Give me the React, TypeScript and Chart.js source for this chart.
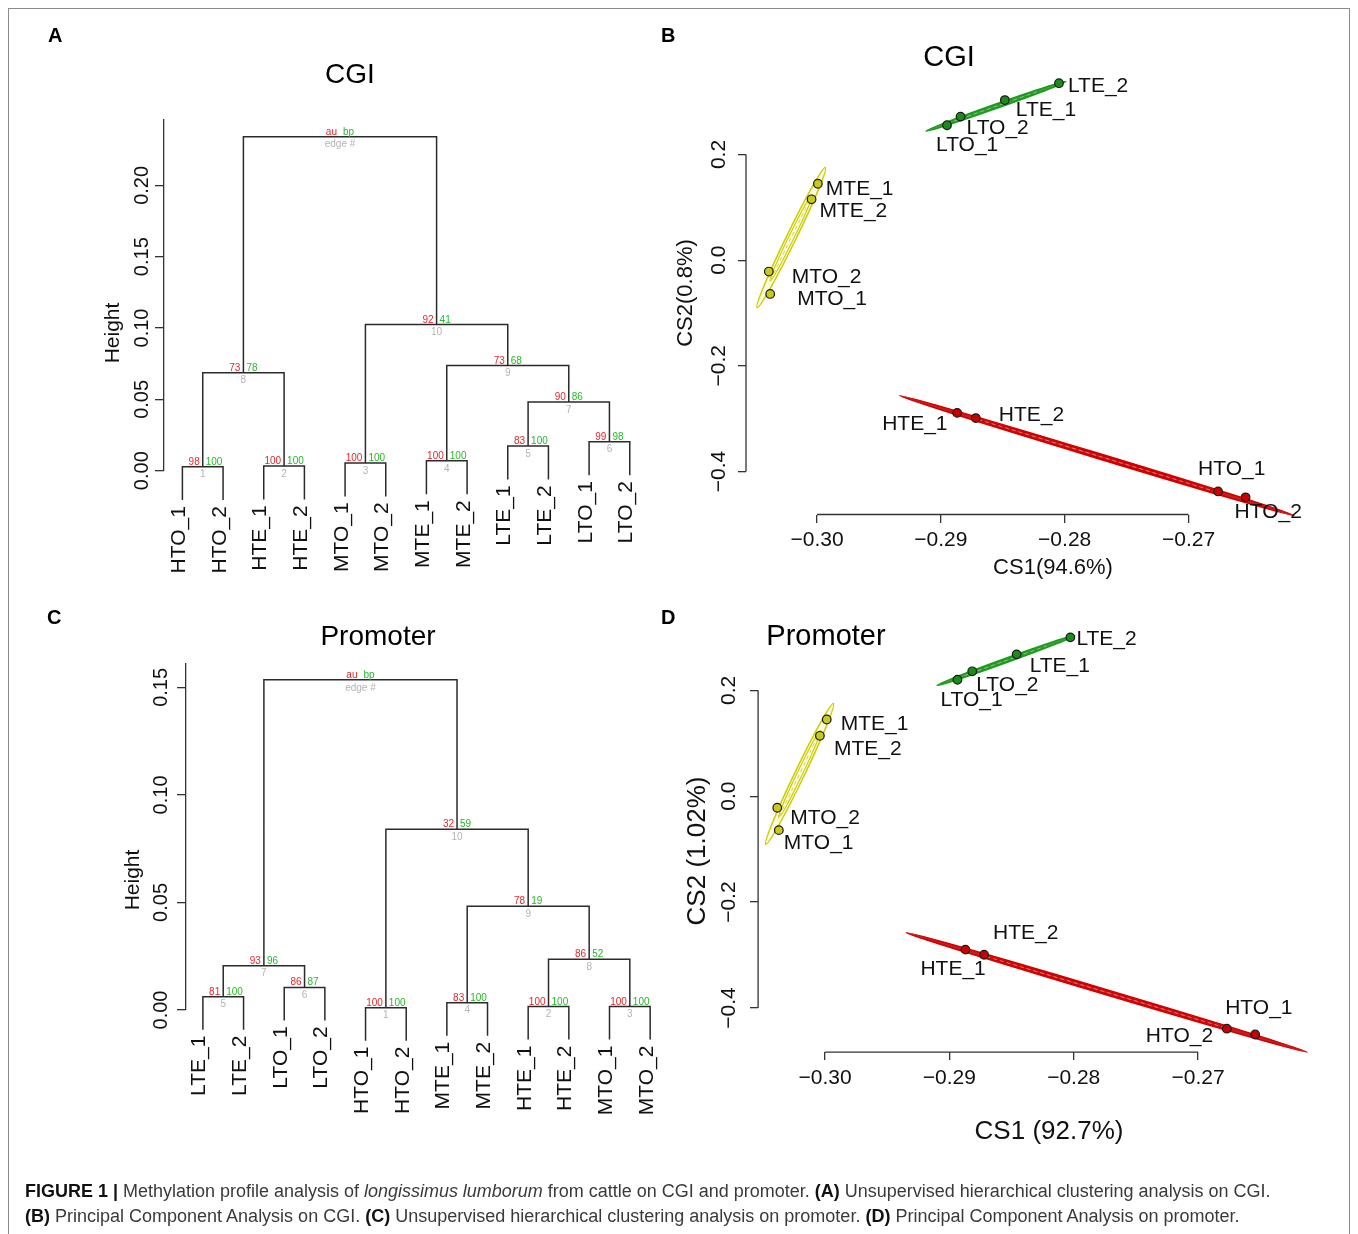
import React, { useEffect, useRef } from 'react';
import { Chart, registerables } from 'chart.js';

Chart.register(...registerables);

const PAGE_W = 1358;
const PAGE_H = 1234;
const FONT = '"Liberation Sans", Arial, Helvetica, sans-serif';
const CAPTION_FONT = '"Liberation Sans Narrow", "Liberation Sans", Arial, sans-serif';

// ---------------- (A) hierarchical clustering on CGI ----------------
const cgiLeaves = ['HTO_1', 'HTO_2', 'HTE_1', 'HTE_2', 'MTO_1', 'MTO_2', 'MTE_1', 'MTE_2', 'LTE_1', 'LTE_2', 'LTO_1', 'LTO_2'];
// hclust-style merge table: negative = leaf position, positive = earlier merge row
const cgiMergeLeft = [-1, -3, -5, -7, -9, -11, 5, 1, 4, 3, 8];
const cgiMergeRight = [-2, -4, -6, -8, -10, -12, 6, 2, 7, 9, 10];
const cgiHeights = [0.0028, 0.0033, 0.0054, 0.0069, 0.0173, 0.0203, 0.0482, 0.0687, 0.0737, 0.1024, 0.2341];
const cgiAu = [98, 100, 100, 100, 83, 99, 90, 73, 73, 92];
const cgiBp = [100, 100, 100, 100, 100, 98, 86, 78, 68, 41];
const cgiHeightTicks = [0, 0.05, 0.1, 0.15, 0.2];

// ---------------- (C) hierarchical clustering on promoter ----------------
const promLeaves = ['LTE_1', 'LTE_2', 'LTO_1', 'LTO_2', 'HTO_1', 'HTO_2', 'MTE_1', 'MTE_2', 'HTE_1', 'HTE_2', 'MTO_1', 'MTO_2'];
const promMergeLeft = [-5, -9, -11, -7, -1, -3, 5, 2, 4, 1, 7];
const promMergeRight = [-6, -10, -12, -8, -2, -4, 6, 3, 8, 9, 10];
const promHeights = [0.0011, 0.0016, 0.0016, 0.0034, 0.0062, 0.0105, 0.0206, 0.0236, 0.0482, 0.084, 0.1535];
const promAu = [100, 100, 100, 83, 81, 86, 93, 86, 78, 32];
const promBp = [100, 100, 100, 100, 100, 87, 96, 52, 19, 59];
const promHeightTicks = [0, 0.05, 0.1, 0.15];

// ---------------- (B)/(D) PCA ----------------
const pcaSamples = ['LTE_2', 'LTE_1', 'LTO_2', 'LTO_1', 'MTE_1', 'MTE_2', 'MTO_2', 'MTO_1', 'HTE_1', 'HTE_2', 'HTO_1', 'HTO_2'];
const pcaGroups = ['L', 'L', 'L', 'L', 'M', 'M', 'M', 'M', 'H', 'H', 'H', 'H'];
const cgiCS1 = [-0.28046, -0.28483, -0.28841, -0.2895, -0.29993, -0.30044, -0.30389, -0.30378, -0.28868, -0.28718, -0.26761, -0.26539];
const cgiCS2 = [0.335, 0.303, 0.2717, 0.2554, 0.1446, 0.1152, -0.0215, -0.0639, -0.2891, -0.2989, -0.4378, -0.4489];
const promCS1 = [-0.28027, -0.28459, -0.28816, -0.28935, -0.29986, -0.30041, -0.30384, -0.30371, -0.28871, -0.28721, -0.26541, -0.26769];
const promCS2 = [0.3, 0.2679, 0.2359, 0.2199, 0.1449, 0.1141, -0.0218, -0.0641, -0.2897, -0.2994, -0.45, -0.4391];
const cs1Ticks = [-0.3, -0.29, -0.28, -0.27];
const cs2Ticks = [-0.4, -0.2, 0, 0.2];

// group ellipses: major-axis end points in data units (L, M, H)
const ellipseGroups = ['L', 'M', 'H'];
const cgiEllipseFrom = [[-0.2912, 0.2443], [-0.30484, -0.09], [-0.29335, -0.2563]];
const cgiEllipseTo = [[-0.2799, 0.3382], [-0.29932, 0.1752], [-0.26147, -0.4832]];
const promEllipseFrom = [[-0.29099, 0.209], [-0.30476, -0.091], [-0.29347, -0.2577]];
const promEllipseTo = [[-0.27993, 0.3032], [-0.29932, 0.175], [-0.26122, -0.4833]];

// ---------------- styles ----------------
const groupLine: Record<string, string> = { L: '#1f9a1f', M: '#cdcd00', H: '#cd0000' };
const groupFill: Record<string, string> = { L: '#1a8c1a', M: '#c9c918', H: '#c80000' };
const ellipseHalfWidth: Record<string, number> = { L: 2.2, M: 4.8, H: 2.6 };
const AU_COLOR = '#e8262b';
const BP_COLOR = '#27b927';
const EDGE_COLOR = '#b3b3b3';
const TREE_LINE = '#2b2b2b';
const AXIS = '#333333';

// label placement (pixels: left edge / caps centre relative to point)
const cgiLabelDx = [9, 11, 6, -11, 8, 8, 23, 27, -75, 23, -20, -11];
const cgiLabelDy = [1, 8, 10, 18, 4, 10, 4, 4, 10, -5, -24, 13];
const promLabelDx = [6, 13, 4, -17, 14, 14, 13, 5, -45, 9, -30, -81];
const promLabelDy = [0, 10, 12, 19, 3, 12, 9, 11, 18, -23, -28, 6];

const dendroA = {
  title: 'CGI', leaves: cgiLeaves, mergeLeft: cgiMergeLeft, mergeRight: cgiMergeRight,
  heights: cgiHeights, au: cgiAu, bp: cgiBp, ticks: cgiHeightTicks,
  geom: { axisX: 163.9, leafStart: 182.4, leafStep: 40.67, top: 120, bottom: 470.7, yMax: 0.2458,
    titleX: 350, titleY: 73, heightX: 111.5, heightY: 333, tickLabelX: 141.3 },
};
const dendroC = {
  title: 'Promoter', leaves: promLeaves, mergeLeft: promMergeLeft, mergeRight: promMergeRight,
  heights: promHeights, au: promAu, bp: promBp, ticks: promHeightTicks,
  geom: { axisX: 185.4, leafStart: 202.9, leafStep: 40.66, top: 663.3, bottom: 1010, yMax: 0.1612,
    titleX: 378, titleY: 635, heightX: 131.6, heightY: 880, tickLabelX: 160.3 },
};
const pcaB = {
  title: 'CGI', cs1: cgiCS1, cs2: cgiCS2, from: cgiEllipseFrom, to: cgiEllipseTo,
  dx: cgiLabelDx, dy: cgiLabelDy, xLabel: 'CS1(94.6%)', yLabel: 'CS2(0.8%)',
  geom: { left: 817, right: 1188.5, top: 154.5, bottom: 471.5, yAxisPx: 746, xAxisPx: 514.5,
    xLo: -0.3075, xHi: -0.2605, yLo: -0.495, yHi: 0.35,
    titleX: 949, titleY: 56, titleSize: 29, xLabelX: 1053, xLabelY: 566, yLabelX: 684.5, yLabelY: 293,
    axisLabelSize: 22, tickLabelX: 717.5 },
};
const pcaD = {
  title: 'Promoter', cs1: promCS1, cs2: promCS2, from: promEllipseFrom, to: promEllipseTo,
  dx: promLabelDx, dy: promLabelDy, xLabel: 'CS1 (92.7%)', yLabel: 'CS2 (1.02%)',
  geom: { left: 825, right: 1198.1, top: 690.3, bottom: 1008, yAxisPx: 758.1, xAxisPx: 1052.2,
    xLo: -0.3075, xHi: -0.2605, yLo: -0.495, yHi: 0.32,
    titleX: 826, titleY: 635, titleSize: 29, xLabelX: 1049, xLabelY: 1130, yLabelX: 696, yLabelY: 851,
    axisLabelSize: 26, tickLabelX: 727.7 },
};

function minusFmt(v: number, digits: number) {
  const s = Math.abs(v).toFixed(digits);
  return (v < -1e-12 ? '\u2212' : '') + s;
}

// rotated text (reads bottom-to-top); cx = centre of capital letters
function drawRotated(ctx: any, text: string, cx: number, y: number, size: number, align: CanvasTextAlign) {
  ctx.save();
  ctx.translate(cx + 0.358 * size, y);
  ctx.rotate(-Math.PI / 2);
  ctx.textAlign = align;
  ctx.textBaseline = 'alphabetic';
  ctx.fillText(text, 0, 0);
  ctx.restore();
}

function buildTree(mergeLeft: number[], mergeRight: number[], heights: number[]) {
  const n = heights.length;
  const nodeX: number[] = [];
  const posOf = (c: number) => (c < 0 ? -c : nodeX[c - 1]);
  const hang = 0.1 * heights[n - 1];
  const leafEnd: Record<number, number> = {};
  const segments: { x: number; y: number }[][] = [];
  for (let i = 0; i < n; i++) {
    const l = mergeLeft[i];
    const r = mergeRight[i];
    const h = heights[i];
    const xl = posOf(l);
    const xr = posOf(r);
    nodeX[i] = (xl + xr) / 2;
    const yl = l < 0 ? h - hang : heights[l - 1];
    const yr = r < 0 ? h - hang : heights[r - 1];
    if (l < 0) leafEnd[-l] = yl;
    if (r < 0) leafEnd[-r] = yr;
    segments.push([{ x: xl, y: yl }, { x: xl, y: h }, { x: xr, y: h }, { x: xr, y: yr }]);
  }
  return { nodeX, leafEnd, segments };
}

function dendroConfig(d: any): any {
  const g = d.geom;
  const xMin = 1 - (g.leafStart - g.axisX) / g.leafStep;
  const xMax = d.leaves.length + 0.5;
  const right = g.leafStart + (xMax - 1) * g.leafStep;
  const tree = buildTree(d.mergeLeft, d.mergeRight, d.heights);
  const datasets = tree.segments.map((seg) => ({
    data: seg, showLine: true, borderColor: TREE_LINE, borderWidth: 1.5,
    pointRadius: 0, tension: 0, clip: false, fill: false,
  }));
  const plugin = {
    id: 'dendroText',
    afterDraw(chart: any) {
      const ctx = chart.ctx;
      const xs = chart.scales.x;
      const ys = chart.scales.y;
      ctx.save();
      ctx.fillStyle = '#000';
      ctx.font = `28px ${FONT}`;
      ctx.textAlign = 'center';
      ctx.textBaseline = 'alphabetic';
      ctx.fillText(d.title, g.titleX, g.titleY + 0.358 * 28);
      ctx.fillStyle = '#111';
      ctx.font = `21px ${FONT}`;
      drawRotated(ctx, 'Height', g.heightX, g.heightY, 21, 'center');
      ctx.font = `20px ${FONT}`;
      d.ticks.forEach((v: number) => drawRotated(ctx, v.toFixed(2), g.tickLabelX, ys.getPixelForValue(v), 20, 'center'));
      ctx.font = `21px ${FONT}`;
      d.leaves.forEach((lab: string, i: number) => {
        const k = i + 1;
        drawRotated(ctx, lab, xs.getPixelForValue(k) - 5, ys.getPixelForValue(tree.leafEnd[k]) + 6, 21, 'right');
      });
      ctx.font = `10px ${FONT}`;
      const n = d.heights.length;
      for (let i = 0; i < n; i++) {
        const px = xs.getPixelForValue(tree.nodeX[i]);
        const py = ys.getPixelForValue(d.heights[i]);
        const root = i === n - 1;
        const au = root ? 'au' : String(d.au[i]);
        const bp = root ? 'bp' : String(d.bp[i]);
        const edge = root ? 'edge #' : String(i + 1);
        ctx.textBaseline = 'alphabetic';
        ctx.fillStyle = AU_COLOR;
        ctx.textAlign = 'right';
        ctx.fillText(au, px - 3, py - 2);
        ctx.fillStyle = BP_COLOR;
        ctx.textAlign = 'left';
        ctx.fillText(bp, px + 3, py - 2);
        ctx.fillStyle = EDGE_COLOR;
        ctx.textAlign = 'center';
        ctx.textBaseline = 'top';
        ctx.fillText(edge, px, py + 3);
      }
      ctx.restore();
    },
  };
  return {
    type: 'scatter',
    data: { datasets },
    options: {
      responsive: false,
      animation: false,
      events: [],
      layout: { padding: { left: g.axisX, top: g.top, right: PAGE_W - right, bottom: PAGE_H - g.bottom } },
      plugins: { legend: { display: false }, tooltip: { enabled: false }, title: { display: false } },
      scales: {
        x: { type: 'linear', min: xMin, max: xMax, display: false },
        y: {
          type: 'linear', min: 0, max: g.yMax, position: { x: xMin },
          afterBuildTicks: (s: any) => { s.ticks = d.ticks.map((v: number) => ({ value: v })); },
          ticks: { display: false },
          grid: { display: true, drawOnChartArea: false, drawTicks: true, tickLength: 8, color: AXIS, lineWidth: 1.3 },
          border: { display: true, color: AXIS, width: 1.3 },
        },
      },
    },
    plugins: [plugin],
  };
}

function pcaConfig(p: any): any {
  const g = p.geom;
  const xMin = cs1Ticks[0];
  const xMax = cs1Ticks[cs1Ticks.length - 1];
  const yMin = cs2Ticks[0];
  const yMax = cs2Ticks[cs2Ticks.length - 1];
  const pxX = (g.right - g.left) / (xMax - xMin);
  const pxY = (g.bottom - g.top) / (yMax - yMin);
  const areaLeft = g.left - (xMin - g.xLo) * pxX;
  const areaRight = g.right + (g.xHi - xMax) * pxX;
  const areaTop = g.top - (g.yHi - yMax) * pxY;
  const areaBottom = g.bottom + (yMin - g.yLo) * pxY;
  const yAxisAt = xMin - (g.left - g.yAxisPx) / pxX;
  const xAxisAt = yMin - (g.xAxisPx - g.bottom) / pxY;
  const datasets = ellipseGroups.map((grp) => {
    const idx = pcaSamples.map((_, i) => i).filter((i) => pcaGroups[i] === grp);
    return {
      data: idx.map((i) => ({ x: p.cs1[i], y: p.cs2[i] })),
      pointRadius: 4.3, pointBackgroundColor: groupFill[grp], pointBorderColor: '#1a1a1a',
      pointBorderWidth: 1.2, showLine: false, clip: false,
    };
  });
  const plugin = {
    id: 'pcaDecor',
    beforeDatasetsDraw(chart: any) {
      const ctx = chart.ctx;
      const xs = chart.scales.x;
      const ys = chart.scales.y;
      ctx.save();
      ellipseGroups.forEach((grp, k) => {
        const x1 = xs.getPixelForValue(p.from[k][0]);
        const y1 = ys.getPixelForValue(p.from[k][1]);
        const x2 = xs.getPixelForValue(p.to[k][0]);
        const y2 = ys.getPixelForValue(p.to[k][1]);
        const cx = (x1 + x2) / 2;
        const cy = (y1 + y2) / 2;
        const a = Math.hypot(x2 - x1, y2 - y1) / 2;
        const ang = Math.atan2(y2 - y1, x2 - x1);
        const hw = ellipseHalfWidth[grp];
        const col = groupLine[grp];
        ctx.strokeStyle = col;
        ctx.fillStyle = col;
        ctx.setLineDash([]);
        ctx.globalAlpha = grp === 'M' ? 0.1 : 0.9;
        ctx.beginPath();
        ctx.ellipse(cx, cy, a, hw, ang, 0, Math.PI * 2);
        ctx.fill();
        ctx.globalAlpha = 1;
        ctx.lineWidth = 1.5;
        ctx.stroke();
        ctx.beginPath();
        ctx.ellipse(cx, cy, a * 0.62, hw * 0.55, ang, 0, Math.PI * 2);
        ctx.lineWidth = 1.1;
        ctx.stroke();
        ctx.beginPath();
        ctx.setLineDash([4, 3]);
        ctx.lineWidth = 0.8;
        ctx.strokeStyle = grp === 'M' ? col : 'rgba(255,255,255,0.5)';
        ctx.moveTo(cx - a * 0.6 * Math.cos(ang), cy - a * 0.6 * Math.sin(ang));
        ctx.lineTo(cx + a * 0.6 * Math.cos(ang), cy + a * 0.6 * Math.sin(ang));
        ctx.stroke();
        ctx.setLineDash([]);
      });
      ctx.restore();
    },
    afterDatasetsDraw(chart: any) {
      const ctx = chart.ctx;
      const xs = chart.scales.x;
      const ys = chart.scales.y;
      ctx.save();
      ctx.fillStyle = '#111';
      ctx.font = `21px ${FONT}`;
      ctx.textAlign = 'left';
      ctx.textBaseline = 'alphabetic';
      pcaSamples.forEach((name, i) => {
        const px = xs.getPixelForValue(p.cs1[i]);
        const py = ys.getPixelForValue(p.cs2[i]);
        ctx.fillText(name, px + p.dx[i], py + p.dy[i] + 0.358 * 21);
      });
      ctx.restore();
    },
    afterDraw(chart: any) {
      const ctx = chart.ctx;
      const xs = chart.scales.x;
      const ys = chart.scales.y;
      ctx.save();
      // axis lines spanning the tick range (R style)
      ctx.strokeStyle = AXIS;
      ctx.lineWidth = 1.3;
      const ax = xs.getPixelForValue(yAxisAt);
      const ay = ys.getPixelForValue(xAxisAt);
      ctx.beginPath();
      ctx.moveTo(xs.getPixelForValue(xMin), ay);
      ctx.lineTo(xs.getPixelForValue(xMax), ay);
      ctx.moveTo(ax, ys.getPixelForValue(yMin));
      ctx.lineTo(ax, ys.getPixelForValue(yMax));
      ctx.stroke();
      ctx.fillStyle = '#000';
      ctx.textAlign = 'center';
      ctx.textBaseline = 'alphabetic';
      ctx.font = `${g.titleSize}px ${FONT}`;
      ctx.fillText(p.title, g.titleX, g.titleY + 0.358 * g.titleSize);
      ctx.fillStyle = '#111';
      ctx.font = `${g.axisLabelSize}px ${FONT}`;
      ctx.fillText(p.xLabel, g.xLabelX, g.xLabelY + 0.358 * g.axisLabelSize);
      drawRotated(ctx, p.yLabel, g.yLabelX, g.yLabelY, g.axisLabelSize, 'center');
      ctx.font = `21px ${FONT}`;
      cs2Ticks.forEach((v) => drawRotated(ctx, minusFmt(v, 1), g.tickLabelX, ys.getPixelForValue(v), 21, 'center'));
      ctx.restore();
    },
  };
  const gridOpts = { display: true, drawOnChartArea: false, drawTicks: true, tickLength: 8, color: AXIS, lineWidth: 1.3 };
  return {
    type: 'scatter',
    data: { datasets },
    options: {
      responsive: false,
      animation: false,
      events: [],
      layout: { padding: { left: areaLeft, top: areaTop, right: PAGE_W - areaRight, bottom: PAGE_H - areaBottom } },
      plugins: { legend: { display: false }, tooltip: { enabled: false }, title: { display: false } },
      scales: {
        x: {
          type: 'linear', min: g.xLo, max: g.xHi, position: { y: xAxisAt },
          afterBuildTicks: (s: any) => { s.ticks = cs1Ticks.map((v) => ({ value: v })); },
          ticks: {
            callback: (v: any) => minusFmt(Number(v), 2), font: { family: FONT, size: 21 }, color: '#111',
            padding: 5, maxRotation: 0, minRotation: 0, autoSkip: false,
          },
          grid: gridOpts,
          border: { display: false },
        },
        y: {
          type: 'linear', min: g.yLo, max: g.yHi, position: { x: yAxisAt },
          afterBuildTicks: (s: any) => { s.ticks = cs2Ticks.map((v) => ({ value: v })); },
          ticks: { display: false },
          grid: gridOpts,
          border: { display: false },
        },
      },
    },
    plugins: [plugin],
  };
}

function ChartLayer({ make }: { make: () => any }) {
  const ref = useRef<HTMLCanvasElement>(null);
  useEffect(() => {
    const chart = new Chart(ref.current as HTMLCanvasElement, make());
    return () => chart.destroy();
  }, []);
  return (
    <canvas
      ref={ref}
      width={PAGE_W}
      height={PAGE_H}
      style={{ position: 'absolute', left: 0, top: 0, width: PAGE_W, height: PAGE_H }}
    />
  );
}

const letterStyle: React.CSSProperties = {
  position: 'absolute', fontFamily: FONT, fontWeight: 'bold', fontSize: 20, lineHeight: '20px', color: '#000',
};

export default function App() {
  const line1 = useRef<HTMLSpanElement>(null);
  const line2 = useRef<HTMLSpanElement>(null);
  useEffect(() => {
    const fit = (el: HTMLSpanElement | null, target: number) => {
      if (!el) return;
      el.style.transform = 'none';
      const w = el.offsetWidth;
      if (w > 0) el.style.transform = `scaleX(${target / w})`;
    };
    fit(line1.current, 1246);
    fit(line2.current, 1215);
  }, []);
  const capStyle: React.CSSProperties = {
    position: 'absolute', left: 25, fontFamily: CAPTION_FONT, fontSize: 18, lineHeight: '18px',
    whiteSpace: 'pre', transformOrigin: '0 0', color: '#3a3a3a',
  };
  return (
    <div style={{ position: 'absolute', left: 0, top: 0, width: PAGE_W, height: PAGE_H, overflow: 'hidden', background: '#fff' }}>
      <div style={{ position: 'absolute', left: 8, top: 8, width: 1342, height: 1280, border: '1px solid #8a8a8a', boxSizing: 'border-box' }} />
      <ChartLayer make={() => dendroConfig(dendroA)} />
      <ChartLayer make={() => pcaConfig(pcaB)} />
      <ChartLayer make={() => dendroConfig(dendroC)} />
      <ChartLayer make={() => pcaConfig(pcaD)} />
      <div style={{ ...letterStyle, left: 48, top: 24.5 }}>A</div>
      <div style={{ ...letterStyle, left: 661, top: 24.5 }}>B</div>
      <div style={{ ...letterStyle, left: 47, top: 606.5 }}>C</div>
      <div style={{ ...letterStyle, left: 661, top: 606.5 }}>D</div>
      <span ref={line1} style={{ ...capStyle, top: 1181.5 }}>
        <b style={{ color: '#111' }}>FIGURE 1 |</b> Methylation profile analysis of <i>longissimus lumborum</i> from cattle on CGI and promoter. <b style={{ color: '#111' }}>(A)</b> Unsupervised hierarchical clustering analysis on CGI.
      </span>
      <span ref={line2} style={{ ...capStyle, top: 1206.5 }}>
        <b style={{ color: '#111' }}>(B)</b> Principal Component Analysis on CGI. <b style={{ color: '#111' }}>(C)</b> Unsupervised hierarchical clustering analysis on promoter. <b style={{ color: '#111' }}>(D)</b> Principal Component Analysis on promoter.
      </span>
    </div>
  );
}
